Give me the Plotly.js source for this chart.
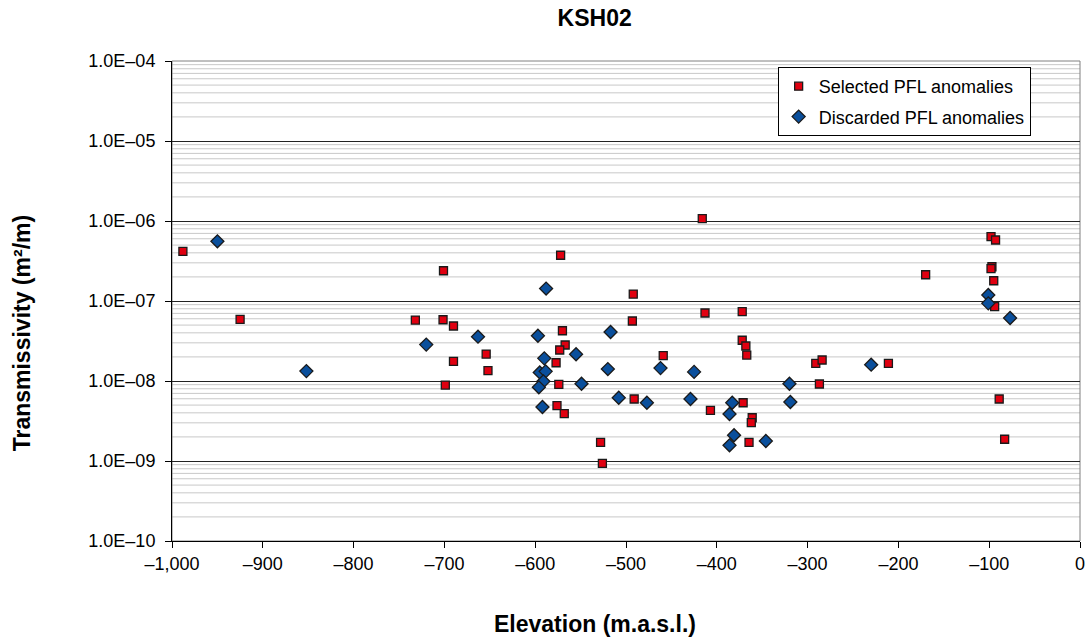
<!DOCTYPE html>
<html>
<head>
<meta charset="utf-8">
<script src="https://cdn.plot.ly/plotly-3.0.1.min.js"></script>
<style>
  html, body { margin: 0; padding: 0; background: #ffffff; }
  #chart { width: 1089px; height: 638px; }
</style>
</head>
<body>
<div id="chart"></div>
<script>
// Borehole KSH02: transmissivity of PFL anomalies versus elevation

const selectedElevation = [
  -988, -925, -732, -701, -701.5, -690, -690, -699, -654, -652,
  -572, -570, -567, -573, -577, -574, -576, -568, -528, -526,
  -492, -493, -491, -459, -416, -413, -407, -372, -372, -368,
  -367, -371, -361, -362, -364.5, -291, -284, -287, -211, -170,
  -98, -93, -97, -98, -95, -94, -89, -83
];
const selectedT = [
  4.18e-7, 5.9e-8, 5.78e-8, 2.39e-7, 5.83e-8, 4.87e-8, 1.76e-8, 8.9e-9, 2.17e-8, 1.35e-8,
  3.73e-7, 4.25e-8, 2.82e-8, 2.44e-8, 1.69e-8, 9.09e-9, 4.91e-9, 3.90e-9, 1.71e-9, 9.35e-10,
  1.22e-7, 5.62e-8, 5.96e-9, 2.07e-8, 1.07e-6, 7.08e-8, 4.30e-9, 7.35e-8, 3.23e-8, 2.74e-8,
  2.11e-8, 5.35e-9, 3.47e-9, 3.01e-9, 1.71e-9, 1.66e-8, 1.83e-8, 9.17e-9, 1.66e-8, 2.13e-7,
  6.37e-7, 5.79e-7, 2.68e-7, 2.54e-7, 1.79e-7, 8.5e-8, 5.96e-9, 1.87e-9
];

const discardedElevation = [
  -950, -852, -720, -663, -588, -597, -517, -555, -590, -520,
  -595, -588.5, -591, -596, -549, -592, -508, -477, -462, -425,
  -429, -383, -386, -381, -386, -346, -320, -319, -230, -101,
  -101, -77
];
const discardedT = [
  5.57e-7, 1.33e-8, 2.85e-8, 3.58e-8, 1.43e-7, 3.68e-8, 4.1e-8, 2.16e-8, 1.92e-8, 1.41e-8,
  1.28e-8, 1.32e-8, 9.9e-9, 8.34e-9, 9.25e-9, 4.73e-9, 6.18e-9, 5.35e-9, 1.45e-8, 1.30e-8,
  5.96e-9, 5.35e-9, 3.87e-9, 2.10e-9, 1.57e-9, 1.78e-9, 9.25e-9, 5.46e-9, 1.60e-8, 1.19e-7,
  9.35e-8, 6.13e-8
];

const xTickVals = [-1000, -900, -800, -700, -600, -500, -400, -300, -200, -100, 0];
const xTickText = ['\u20131,000', '\u2013900', '\u2013800', '\u2013700', '\u2013600', '\u2013500',
                   '\u2013400', '\u2013300', '\u2013200', '\u2013100', '0'];
const yTickVals = [1e-10, 1e-9, 1e-8, 1e-7, 1e-6, 1e-5, 1e-4];
const yTickText = ['1.0E\u201310', '1.0E\u201309', '1.0E\u201308', '1.0E\u201307',
                   '1.0E\u201306', '1.0E\u201305', '1.0E\u201304'];

const FONT = 'Liberation Sans, Arial, sans-serif';

// light minor gridlines at 2..9 within every decade
const minorLines = [];
for (let e = -10; e < -4; e++) {
  for (let m = 2; m <= 9; m++) {
    minorLines.push({
      type: 'line', xref: 'paper', yref: 'y', layer: 'below',
      x0: 0, x1: 1, y0: m * Math.pow(10, e), y1: m * Math.pow(10, e),
      line: { color: '#c8c8c8', width: 1 }
    });
  }
}

const traces = [
  {
    type: 'scatter', mode: 'markers', name: 'Selected PFL anomalies',
    legendgroup: 'sel',
    x: selectedElevation, y: selectedT,
    marker: { symbol: 'square', size: 8, color: '#e00010', line: { color: '#1a1a1a', width: 1.3 } }
  },
  {
    type: 'scatter', mode: 'markers', name: 'Discarded PFL anomalies',
    legendgroup: 'dis',
    x: discardedElevation, y: discardedT,
    marker: { symbol: 'diamond', size: 10, color: '#0a4f9c', line: { color: '#1a1a1a', width: 1.3 } }
  }
];

const layout = {
  width: 1089, height: 638,
  margin: { l: 172, r: 9, t: 61, b: 97 },
  paper_bgcolor: '#ffffff', plot_bgcolor: '#ffffff',
  font: { family: FONT, size: 18, color: '#000000' },
  title: {
    text: '<b>KSH02</b>', xref: 'paper', x: 0.4655, xanchor: 'center',
    yref: 'container', y: 0.972, yanchor: 'middle',
    font: { family: FONT, size: 23, color: '#000000' }
  },
  xaxis: {
    range: [-1000, 0], tickvals: xTickVals, ticktext: xTickText,
    showgrid: false, zeroline: false,
    showline: true, linecolor: '#000000', linewidth: 1,
    ticks: 'outside', ticklen: 6, tickcolor: '#000000',
    tickfont: { family: FONT, size: 18, color: '#000000' }
  },
  yaxis: {
    type: 'log', range: [-10, -4], tickvals: yTickVals, ticktext: yTickText,
    showgrid: true, gridcolor: '#222222', gridwidth: 1, zeroline: false,
    showline: true, linecolor: '#000000', linewidth: 1,
    ticks: 'outside', ticklen: 6, tickcolor: '#000000',
    ticklabelstandoff: 6,
    tickfont: { family: FONT, size: 18, color: '#000000' }
  },
  shapes: minorLines.concat([
    { type: 'rect', xref: 'paper', yref: 'paper', x0: 0, x1: 1, y0: 0, y1: 1,
      line: { color: '#808080', width: 1 }, layer: 'below' }
  ]),
  annotations: [
    { text: '<b>Elevation (m.a.s.l.)</b>', xref: 'paper', yref: 'paper',
      x: 0.4655, y: -0.173, xanchor: 'center', yanchor: 'middle', showarrow: false,
      font: { family: FONT, size: 23, color: '#000000' } },
    { text: '<b>Transmissivity (m\u00b2/m)</b>', xref: 'paper', yref: 'paper',
      x: -0.165, y: 0.433, xanchor: 'center', yanchor: 'middle', showarrow: false,
      textangle: -90, font: { family: FONT, size: 23, color: '#000000' } }
  ],
  showlegend: true,
  legend: {
    x: 0.667, xanchor: 'left', y: 0.9875, yanchor: 'top',
    bgcolor: '#ffffff', bordercolor: '#000000', borderwidth: 1,
    font: { family: FONT, size: 18, color: '#000000' },
    traceorder: 'grouped', tracegroupgap: 4, itemwidth: 30
  }
};

Plotly.newPlot('chart', traces, layout, { displayModeBar: false, staticPlot: true });
</script>
</body>
</html>
